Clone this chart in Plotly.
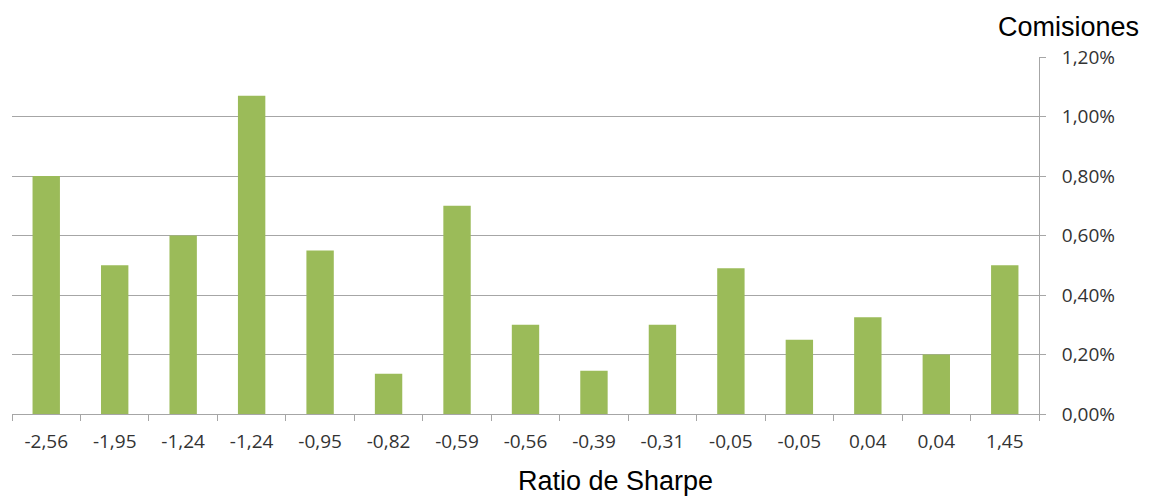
import plotly.graph_objects as go

sharpe_labels = ["-2,56", "-1,95", "-1,24", "-1,24", "-0,95", "-0,82", "-0,59", "-0,56",
                 "-0,39", "-0,31", "-0,05", "-0,05", "0,04", "0,04", "1,45"]
comisiones = [0.0080, 0.0050, 0.0060, 0.0107, 0.0055, 0.00135, 0.0070, 0.0030,
              0.00145, 0.0030, 0.0049, 0.0025, 0.00325, 0.0020, 0.0050]
y_ticks = [0, 0.002, 0.004, 0.006, 0.008, 0.010, 0.012]

positions = list(range(len(sharpe_labels)))

# page body adds an 8px offset; figure coordinates below account for it
W, H = 1141, 488
ML, MR, MT, MB = 4, 110, 49, 82
plot_w = W - ML - MR
plot_h = H - MT - MB

def px_x(sx):
    return (sx - 8 - ML) / plot_w

def px_y(sy):
    return (H - MB - (sy - 8)) / plot_h

fig = go.Figure(go.Bar(x=positions, y=comisiones, marker_color="#9BBB59",
                       marker_line_width=0, width=0.4))

fig.update_layout(
    width=W, height=H,
    margin=dict(l=ML, r=MR, t=MT, b=MB),
    paper_bgcolor="white", plot_bgcolor="white",
    separators=",.",
    showlegend=False,
    font=dict(family="Open Sans, Liberation Sans, sans-serif", color="#333333"),
    xaxis=dict(
        range=[-0.5, len(sharpe_labels) - 0.5],
        tickvals=positions, ticktext=sharpe_labels,
        ticks="", showgrid=False, zeroline=False,
        showline=True, linecolor="#A6A6A6", linewidth=1,
        tickfont=dict(size=19, color="#333333"),
        ticklabelstandoff=10,
        minor=dict(tickvals=[i - 0.5 for i in range(len(sharpe_labels) + 1)],
                   ticks="outside", ticklen=6, tickcolor="#A6A6A6", showgrid=False),
    ),
    yaxis=dict(
        side="right", range=[0, 0.012], tickvals=y_ticks, tickformat=".2%",
        showgrid=True, gridcolor="#A6A6A6", gridwidth=1,
        zeroline=False, showline=True, linecolor="#A6A6A6", linewidth=1,
        ticks="outside", ticklen=6, tickcolor="#A6A6A6",
        tickfont=dict(size=19, color="#333333"),
        ticklabelstandoff=12,
    ),
    annotations=[
        dict(text="Comisiones", x=px_x(1068), xref="paper", xanchor="center",
             y=px_y(27), yref="paper", yanchor="middle", showarrow=False,
             font=dict(family="Liberation Sans, Arial, sans-serif", size=27, color="black")),
        dict(text="Ratio de Sharpe", x=px_x(615), xref="paper", xanchor="center",
             y=px_y(481), yref="paper", yanchor="middle", showarrow=False,
             font=dict(family="Liberation Sans, Arial, sans-serif", size=27, color="black")),
    ],
)

fig.write_html("out.html")
